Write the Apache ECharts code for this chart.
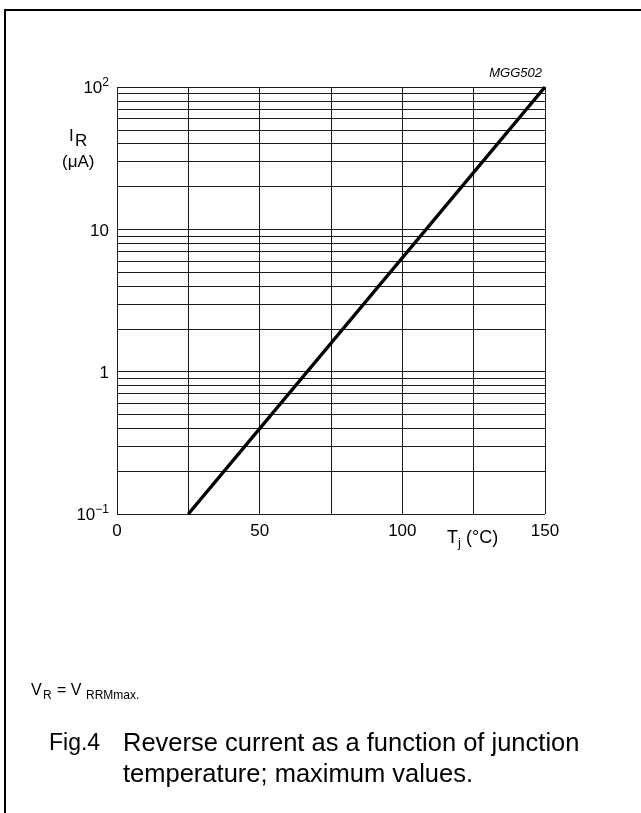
<!DOCTYPE html>
<html><head><meta charset="utf-8">
<script src="https://cdn.jsdelivr.net/npm/echarts@6.0.0/dist/echarts.min.js"></script>
<style>html,body{margin:0;padding:0;background:#fff}#c{width:641px;height:813px}</style>
</head><body><div id="c"></div>
<script>
// Data
const temps = [25, 150];          // Tj (°C)
const currents = [0.1, 100];      // IR (µA), maximum values
const xTickLabels = [0, 50, 100, 150];
const yMinorGrid = [0.2,0.3,0.4,0.5,0.6,0.7,0.8,0.9, 2,3,4,5,6,7,8,9, 20,30,40,50,60,70,80,90];

const FONT = 'Liberation Sans, Arial, Helvetica, sans-serif';
const GRID = '#1a1a1a';

const chart = echarts.init(document.getElementById('c'), null, {renderer: 'canvas'});

function near(a, b) { return Math.abs(a - b) < 1e-6 * Math.max(1, Math.abs(b)); }

const option = {
  animation: false,
  backgroundColor: '#fff',
  grid: {left: 117, right: 96, top: 87, bottom: 299, containLabel: false},
  xAxis: {
    type: 'value', min: 0, max: 150, interval: 25,
    axisLine: {show: false}, axisTick: {show: false},
    splitLine: {show: true, lineStyle: {color: GRID, width: 1}},
    axisLabel: {
      margin: 9, color: '#000', fontSize: 17, fontFamily: FONT,
      formatter: v => xTickLabels.indexOf(v) >= 0 ? String(v) : ''
    }
  },
  yAxis: {
    type: 'log', logBase: 10, min: 0.1, max: 100,
    axisLine: {show: false}, axisTick: {show: false},
    splitLine: {show: true, lineStyle: {color: GRID, width: 1}},
    axisLabel: {
      margin: 8, color: '#000', fontFamily: FONT,
      formatter: v => {
        if (near(v, 100)) return '{b|10}{p|2}';
        if (near(v, 10)) return '{b|10}';
        if (near(v, 1)) return '{b|1}';
        if (near(v, 0.1)) return '{b|10}{p|\u22121}';
        return '';
      },
      rich: {
        b: {fontSize: 17, fontFamily: FONT, color: '#000', lineHeight: 20, verticalAlign: 'bottom'},
        p: {fontSize: 12, fontFamily: FONT, color: '#000', lineHeight: 12, verticalAlign: 'top'}
      }
    }
  },
  series: [
    {
      type: 'line', silent: true, symbol: 'none', data: [],
      markLine: {
        silent: true, symbol: ['none', 'none'], animation: false,
        label: {show: false},
        lineStyle: {type: 'solid', color: GRID, width: 1},
        emphasis: {disabled: true},
        data: yMinorGrid.map(v => ({yAxis: v}))
      }
    },
    {
      type: 'line', silent: true, symbol: 'none', z: 10,
      lineStyle: {color: '#000', width: 3.5},
      data: temps.map((t, i) => [t, currents[i]])
    }
  ],
  graphic: [
    {type: 'line', shape: {x1: 4, y1: 10, x2: 641, y2: 10}, style: {stroke: '#000', lineWidth: 2}},
    {type: 'line', shape: {x1: 5, y1: 9, x2: 5, y2: 813}, style: {stroke: '#000', lineWidth: 2}},
    {type: 'text', left: 69, top: 128, style: {text: 'I', font: '17px ' + FONT, fill: '#000'}},
    {type: 'text', left: 75, top: 133, style: {text: 'R', font: '17px ' + FONT, fill: '#000'}},
    {type: 'text', left: 62, top: 154, style: {text: '(\u03bcA)', font: '17px ' + FONT, fill: '#000'}},
    {type: 'text', left: 447, top: 529, style: {text: 'T', font: '18px ' + FONT, fill: '#000'}},
    {type: 'text', left: 458, top: 537, style: {text: 'j', font: '13px ' + FONT, fill: '#000'}},
    {type: 'text', left: 466, top: 529, style: {text: '(\u00b0C)', font: '18px ' + FONT, fill: '#000'}},
    {type: 'text', right: 99, top: 67, style: {text: 'MGG502', font: 'italic 13px ' + FONT, fill: '#000'}},
    {type: 'text', left: 31, top: 683, style: {text: 'V', font: '16px ' + FONT, fill: '#000'}},
    {type: 'text', left: 43, top: 690, style: {text: 'R', font: '12px ' + FONT, fill: '#000'}},
    {type: 'text', left: 57, top: 683, style: {text: '= V', font: '16px ' + FONT, fill: '#000'}},
    {type: 'text', left: 86, top: 690, style: {text: 'RRMmax.', font: '12px ' + FONT, fill: '#000'}},
    {type: 'text', left: 49, top: 732, style: {text: 'Fig.4', font: '23px ' + FONT, fill: '#000'}},
    {type: 'text', left: 123, top: 731, style: {text: 'Reverse current as a function of junction', font: '25.5px ' + FONT, fill: '#000'}},
    {type: 'text', left: 123, top: 762, style: {text: 'temperature; maximum values.', font: '25.5px ' + FONT, fill: '#000'}}
  ]
};
chart.setOption(option);
</script>
</body></html>
